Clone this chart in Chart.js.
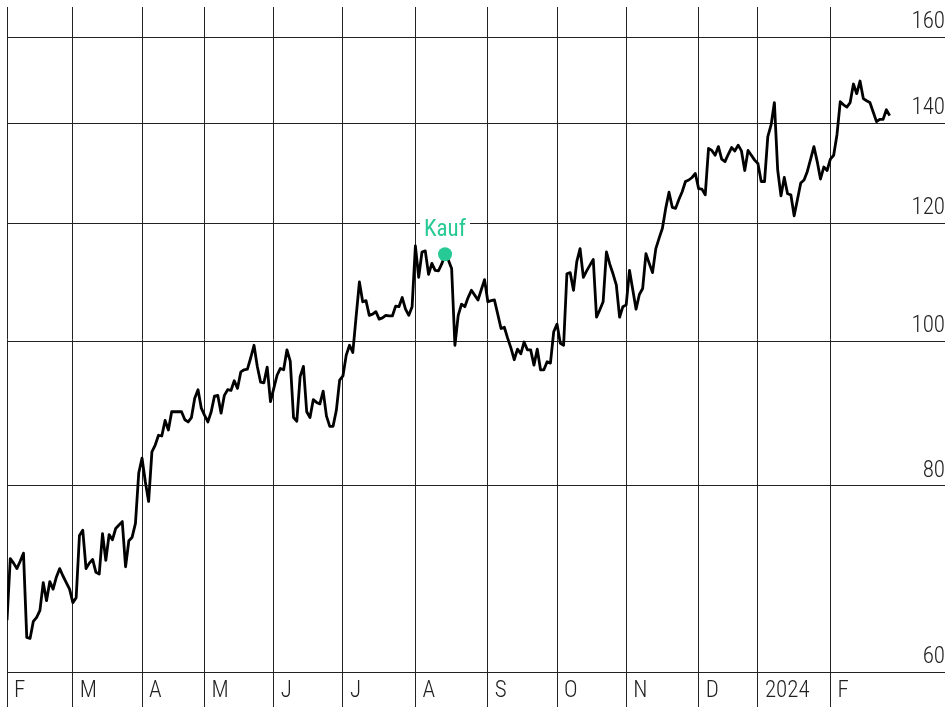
<!DOCTYPE html>
<html>
<head>
<meta charset="utf-8">
<script src="https://cdn.jsdelivr.net/npm/chart.js@4.4.1/dist/chart.umd.min.js"></script>
<style>
  html, body { margin: 0; padding: 0; background: #fff; }
  #wrap { width: 952px; height: 707px; }
</style>
</head>
<body>
<div id="wrap"><canvas id="chart"></canvas></div>
<script>
// Schlusskurse pro Handelstag, Feb 2023 bis Feb 2024
const prices = [
  65.0, 71.5, 71.0, 70.4, 71.2, 72.1, 63.3, 63.2, 64.9, 65.3,
  66.0, 68.9, 67.0, 69.0, 68.2, 69.5, 70.4, 69.6, 68.9, 68.2,
  66.8, 67.3, 74.1, 74.7, 70.4, 71.0, 71.4, 70.0, 69.8, 74.3,
  71.3, 74.2, 73.6, 74.9, 75.3, 75.7, 70.6, 73.5, 73.9, 75.5,
  81.6, 83.5, 80.5, 78.1, 84.3, 85.2, 86.5, 86.4, 88.5, 87.2,
  89.7, 89.7, 89.7, 89.7, 88.6, 88.3, 88.9, 91.6, 92.8, 90.2,
  89.2, 88.3, 89.7, 91.9, 92.0, 89.5, 92.0, 92.8, 92.7, 94.1,
  93.0, 95.4, 95.7, 95.8, 97.5, 99.4, 96.2, 93.9, 93.8, 96.1,
  91.1, 93.0, 94.9, 95.9, 95.7, 98.7, 97.0, 88.9, 88.4, 94.7,
  96.2, 89.7, 88.9, 91.4, 91.0, 90.8, 92.6, 89.1, 87.7, 87.7,
  89.9, 94.2, 94.8, 97.9, 99.4, 98.3, 103.9, 109.6, 106.3, 106.5,
  104.1, 104.3, 104.7, 103.5, 103.7, 104.1, 104.0, 104.0, 105.6, 105.5,
  107.0, 105.1, 104.1, 105.5, 115.9, 110.4, 114.8, 115.0, 110.9, 112.8,
  111.6, 111.5, 112.7, 114.4, 113.4, 111.9, 99.4, 104.1, 105.9, 105.5,
  107.0, 108.2, 107.4, 106.6, 108.3, 110.0, 106.3, 106.5, 106.6, 104.3,
  102.0, 102.2, 100.5, 99.0, 97.2, 98.8, 98.1, 99.9, 98.7, 98.7,
  96.4, 98.8, 95.7, 95.7, 96.9, 96.7, 101.5, 102.7, 99.7, 99.4,
  111.0, 111.2, 108.2, 113.1, 115.4, 110.4, 111.5, 112.5, 113.5, 103.8,
  105.0, 106.3, 114.8, 112.7, 111.0, 109.1, 103.8, 105.5, 105.8, 111.6,
  108.3, 105.1, 107.5, 108.5, 114.5, 112.8, 111.2, 115.4, 117.3, 119.1,
  122.8, 125.9, 123.0, 122.8, 124.5, 126.0, 128.0, 128.3, 128.8, 129.6,
  126.6, 126.5, 125.4, 134.7, 134.3, 133.3, 135.1, 132.5, 132.0, 133.5,
  134.9, 134.2, 135.4, 134.2, 130.2, 134.3, 133.3, 132.3, 131.6, 128.0,
  128.0, 137.2, 139.7, 144.6, 130.3, 125.2, 128.8, 125.6, 125.4, 121.4,
  124.5, 127.7, 128.3, 130.0, 132.5, 135.1, 132.0, 128.5, 130.9, 130.2,
  132.5, 133.3, 137.6, 144.8, 144.1, 143.6, 144.6, 148.8, 146.6, 149.5,
  145.5, 145.0, 144.6, 142.5, 140.4, 140.9, 140.9, 143.0, 141.7
];

// erster Handelstag jedes Monats (Index in prices)
const monthStarts = [0, 20, 41, 60, 81, 102, 124, 146, 167, 188, 210, 228, 250];
const monthLabels = ['F', 'M', 'A', 'M', 'J', 'J', 'A', 'S', 'O', 'N', 'D', '2024', 'F'];
const yTicks = [60, 80, 100, 120, 140, 160];

const buyIndex = 133;
const buyPrice = 114.4;
const buyLabel = 'Kauf';

// Chart.js prüft font.style, daher steckt "condensed" im weight
const AXIS_FONT = { family: 'Roboto', size: 23, weight: 'condensed 300' };
const GREEN = '#27c994';
const GRID = '#222';

// Beschriftung über dem Kaufpunkt
const buyLabelPlugin = {
  id: 'buyLabel',
  afterDatasetsDraw(chart) {
    const ctx = chart.ctx;
    const px = chart.scales.x.getPixelForValue(buyIndex);
    const py = chart.scales.y.getPixelForValue(buyPrice);
    ctx.save();
    ctx.font = 'condensed 400 23px Roboto';
    const w = ctx.measureText(buyLabel).width;
    const ty = py - 24;
    ctx.fillStyle = '#fff';
    ctx.fillRect(px - w / 2 - 4, ty - 12, w + 8, 24);
    ctx.fillStyle = GREEN;
    ctx.textAlign = 'center';
    ctx.textBaseline = 'middle';
    ctx.fillText(buyLabel, px, ty);
    ctx.restore();
  }
};

new Chart(document.getElementById('chart'), {
  type: 'line',
  data: {
    datasets: [
      {
        data: [{ x: buyIndex, y: buyPrice }],
        showLine: false,
        pointRadius: 7,
        pointBackgroundColor: GREEN,
        pointBorderWidth: 0,
        order: 0
      },
      {
        data: prices.map((v, i) => ({ x: i, y: v })),
        borderColor: '#000',
        borderWidth: 2.8,
        borderJoinStyle: 'round',
        pointRadius: 0,
        tension: 0,
        fill: false,
        order: 1
      }
    ]
  },
  options: {
    responsive: true,
    maintainAspectRatio: false,
    animation: false,
    devicePixelRatio: 1,
    layout: { padding: { left: 7, top: 7, right: 0, bottom: 2 } },
    plugins: { legend: { display: false }, tooltip: { enabled: false } },
    scales: {
      x: {
        type: 'linear',
        min: 0,
        max: 284.8,
        afterBuildTicks: s => { s.ticks = monthStarts.map(v => ({ value: v })); },
        grid: { color: GRID, lineWidth: 1, drawTicks: true, tickLength: 35 },
        border: { display: false },
        ticks: {
          align: 'start',
          crossAlign: 'center',
          labelOffset: 7,
          padding: -16,
          maxRotation: 0,
          autoSkip: false,
          color: '#222',
          font: { ...AXIS_FONT, lineHeight: 1.3 },
          callback: (v, i) => monthLabels[i]
        }
      },
      y: {
        type: 'logarithmic',
        position: 'right',
        min: 60,
        max: 167.6,
        afterBuildTicks: s => { s.ticks = yTicks.map(v => ({ value: v })); },
        grid: { color: GRID, lineWidth: 1, drawTicks: false, tickLength: 0 },
        border: { display: false },
        ticks: {
          mirror: true,
          padding: 0,
          labelOffset: -15,
          color: '#222',
          font: { ...AXIS_FONT, lineHeight: 0.5 },
          callback: v => String(v)
        }
      }
    }
  },
  plugins: [buyLabelPlugin]
});
</script>
</body>
</html>
